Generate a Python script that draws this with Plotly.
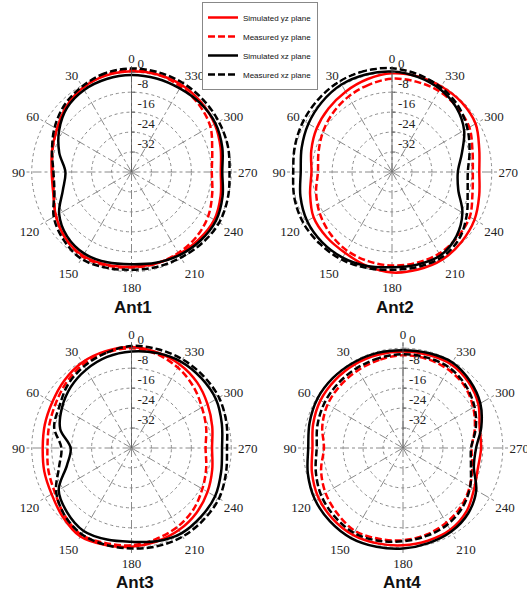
import plotly.graph_objects as go

theta = [0, 15, 30, 45, 60, 75, 90, 105, 120, 135, 150, 165,
         180, 195, 210, 225, 240, 255, 270, 285, 300, 315, 330, 345]

angle_ticks = [0, 30, 60, 90, 120, 150, 180, 210, 240, 270, 300, 330]
angle_labels = ["0", "30", "60", "90", "120", "150", "180", "210", "240", "270", "300", "330"]
radial_ticks = [-32, -24, -16, -8, 0]
radial_labels = ["-32", "-24", "-16", "-8", "0"]

series_names = ["Simulated yz plane", "Measured yz plane", "Simulated xz plane", "Measured xz plane"]
titles = ["Ant1", "Ant2", "Ant3", "Ant4"]

# Ant1
ant1_sim_yz = [0.4, 0, -1, -3, -5.5, -7, -8, -7.5, -5, -2.5, -1.2, -1.5,
               -2, -2, -2, -1.8, -1.7, -3, -4.2, -3, -1.5, -0.5, 0.3, 0.5]
ant1_meas_yz = [0.9, 0.3, -1, -3, -5.5, -7.2, -8.4, -7.8, -5, -2.5, -0.8, -1.2,
                -1.7, -2, -2.5, -3.2, -4.5, -6.5, -7.8, -6.5, -3.5, -1.8, -0.5, 0.5]
ant1_sim_xz = [-1.1, -1.4, -2, -3.5, -6.5, -10, -13.5, -11.5, -6.5, -3.5, -2.2, -2.5,
               -3, -2.3, -1.5, -1, -0.9, -2.2, -3.6, -2.3, -1.1, -1, -1.3, -1.2]
ant1_meas_xz = [1.5, 1, -0.4, -2, -4.4, -7, -8.7, -8, -4, -1.5, 0.2, -0.3,
                -0.8, -0.6, -0.4, 0.2, 0.6, 0, -0.7, 0, 0.4, 0.8, 1.2, 1.4]

# Ant2
ant2_sim_yz = [-0.4, -1.5, -2.8, -4, -5.1, -6.5, -7.7, -6, -3.7, -3, -2.5, -1,
               0.3, 0.5, 0.5, -0.5, -1.8, -3.8, -5, -3.8, -1.3, -0.5, -0.4, -0.3]
ant2_meas_yz = [-2.6, -3.8, -5.1, -6.5, -8, -9.5, -10.3, -8.5, -6.6, -5, -3.7, -3,
                -2.5, -2.3, -2.2, -3, -4, -6.6, -7.6, -6.6, -4.2, -3.2, -2.5, -2.5]
ant2_sim_xz = [0.3, 0.5, 0.5, -0.3, -1.3, -2.5, -3.4, -2, -0.7, -0.3, -0.4, -1,
               -1.8, -1.5, -1.3, -3.5, -7.4, -12.5, -13.6, -11, -6.6, -3.5, -1.6, -0.5]
ant2_meas_xz = [1.6, 2, 2, 1.5, 1, 0.3, -0.4, 0.5, 1, 0.8, 0.5, -0.2,
                -0.8, -0.6, -0.4, -2, -5.4, -8.6, -9.6, -7.8, -5.1, -2.5, -0.8, 0.5]

# Ant3
ant3_sim_yz = [0.5, 0.2, -0.4, -1.8, -3.3, -4, -4.4, -3.8, -3, -1, 1, 0.3,
               -0.4, -1.2, -2, -3.2, -4.8, -6.5, -7.7, -6.5, -4.8, -2.8, -1.3, -0.3]
ant3_meas_yz = [0, -0.5, -1.3, -3, -4.8, -5.8, -6.3, -5.5, -4.5, -2, 0.2, -0.5,
                -1, -2.2, -3.4, -5, -7.2, -9, -10.3, -9, -7.4, -5, -2.8, -1]
ant3_sim_xz = [-1.3, -2.2, -3.7, -5.5, -7.8, -10.4, -15.6, -13.2, -6.3, -3.5, -1.6, -2,
               -2.4, -1.3, -0.4, -0.8, -1.3, -2.8, -3.7, -2.5, -0.9, -0.4, -0.1, -0.6]
ant3_meas_xz = [0.9, -0.5, -2.1, -4, -6.6, -7.9, -11.9, -9.9, -5.1, -2, -0.1, 0.2,
                0.3, 0.7, 1, 0.8, 0.5, -0.8, -1.7, -0.6, 0.5, 0.8, 1, 1]

# Ant4
ant4_sim_yz = [-1.3, -1.3, -1.3, -1.5, -1.8, -2.7, -3.7, -2.2, -0.7, 0, 0.2, -0.4,
               -1, -1.5, -2.1, -4, -7.1, -8.9, -8.7, -8.2, -5.1, -2.8, -1.3, -1.3]
ant4_meas_yz = [-2.8, -3.4, -4, -4.5, -5.1, -6.5, -8.3, -6, -4.1, -2.8, -1.6, -2.3,
                -3, -4, -5.4, -7, -9.1, -11.2, -12.5, -10.2, -7.5, -5, -3.7, -3]
ant4_sim_xz = [-0.8, -0.5, -0.4, -0.3, -0.4, -1.2, -2, -0.5, 0.9, 1.5, 1.7, 1,
               0.3, -0.5, -1.3, -3, -6.1, -10.6, -10.7, -7.5, -4.2, -2, -0.4, -0.6]
ant4_meas_xz = [-2.4, -2.7, -3, -3.3, -3.7, -4.5, -5.4, -3.8, -2.1, -1.2, -0.7, -1.5,
                -2.6, -3.5, -4.5, -6.3, -8.9, -11.8, -12.7, -9.8, -6.9, -4.5, -2.8, -2.5]

antennas = [
    [ant1_sim_yz, ant1_meas_yz, ant1_sim_xz, ant1_meas_xz],
    [ant2_sim_yz, ant2_meas_yz, ant2_sim_xz, ant2_meas_xz],
    [ant3_sim_yz, ant3_meas_yz, ant3_sim_xz, ant3_meas_xz],
    [ant4_sim_yz, ant4_meas_yz, ant4_sim_xz, ant4_meas_xz],
]

colors = ["#ff0000", "#ff0000", "#000000", "#000000"]
dashes = ["solid", "7px,3px", "solid", "7px,3px"]

W, H = 527, 593
centers = [(131.5, 172), (392, 172), (131.5, 448), (403, 448)]
R = 106
title_pos = [(133, 307), (395, 307), (135, 582), (402, 582)]

fig = go.Figure()
tick_font = dict(family="Liberation Serif, Times New Roman, serif", size=13, color="#222222")
# radial labels sit just above their ring, as in the reference
radial_text = [t + "<br> " for t in radial_labels]

for i, data in enumerate(antennas):
    pname = "polar" if i == 0 else f"polar{i+1}"
    for j, vals in enumerate(data):
        fig.add_trace(go.Scatterpolar(
            r=vals + vals[:1], theta=theta + theta[:1], mode="lines",
            name=series_names[j], legendgroup=series_names[j], showlegend=(i == 0),
            line=dict(color=colors[j], width=2.5, dash=dashes[j], shape="spline", smoothing=1),
            subplot=pname,
        ))
    cx, cy = centers[i]
    fig.layout[pname] = dict(
        domain=dict(x=[(cx - R) / W, (cx + R) / W], y=[1 - (cy + R) / H, 1 - (cy - R) / H]),
        bgcolor="rgba(0,0,0,0)",
        angularaxis=dict(
            rotation=90, direction="counterclockwise",
            tickmode="array", tickvals=angle_ticks, ticktext=angle_labels,
            showline=False, ticks="", tickfont=tick_font,
            showgrid=True, gridcolor="#8a8a8a", gridwidth=0.8, griddash="dashdot",
        ),
        radialaxis=dict(
            range=[-40, 2.5], angle=90, tickangle=90, side="clockwise",
            tickmode="array", tickvals=radial_ticks, ticktext=radial_text,
            showline=True, linecolor="#555555", linewidth=0.8,
            ticks="outside", ticklen=3, tickcolor="#555555",
            tickfont=tick_font, layer="above traces",
            showgrid=True, gridcolor="#8a8a8a", gridwidth=0.8, griddash="dot",
        ),
    )
    tx, ty = title_pos[i]
    fig.add_annotation(
        text=f"<b>{titles[i]}</b>", x=tx / W, y=1 - ty / H, xref="paper", yref="paper",
        showarrow=False, xanchor="center", yanchor="middle",
        font=dict(family="Liberation Sans, Arial, sans-serif", size=17, color="#111111"),
    )

fig.update_layout(
    width=W, height=H, margin=dict(l=0, r=0, t=0, b=0),
    paper_bgcolor="white", plot_bgcolor="white",
    showlegend=True,
    legend=dict(
        x=202 / W, y=1 - 2 / H, xanchor="left", yanchor="top",
        bgcolor="white", bordercolor="#888888", borderwidth=1,
        font=dict(family="Liberation Sans, Arial, sans-serif", size=8, color="#111111"),
        itemwidth=30, tracegroupgap=0,
    ),
)

fig.write_html("out.html")
